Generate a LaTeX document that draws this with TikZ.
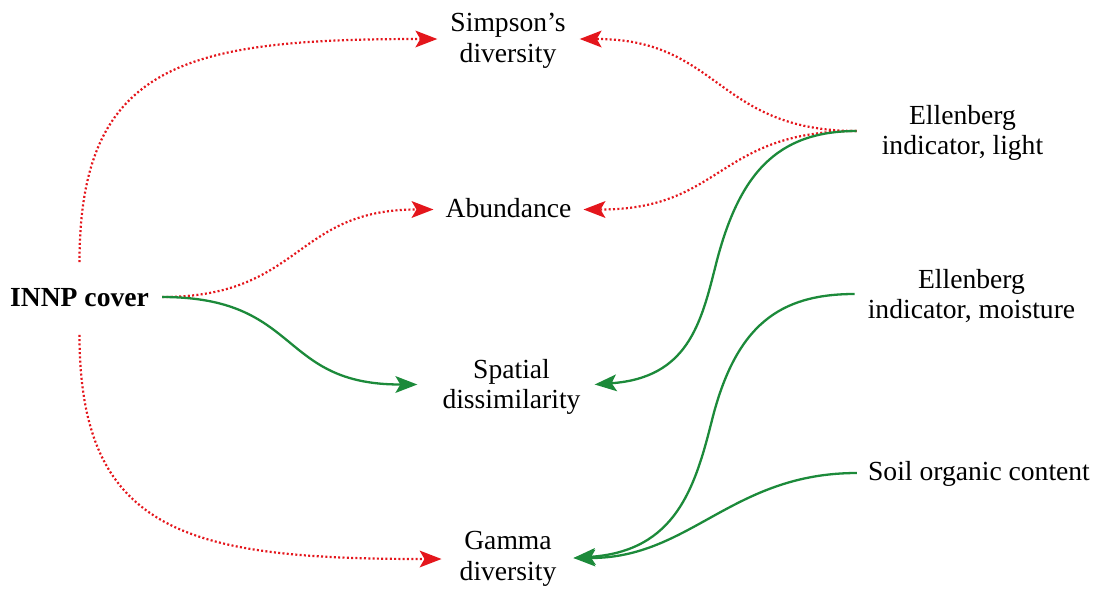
\documentclass[tikz,border=0pt]{standalone}
\usepackage{fontspec}
\setmainfont{Liberation Serif}
\usetikzlibrary{arrows.meta}
\definecolor{pred}{RGB}{228,22,28}
\definecolor{pgreen}{RGB}{28,138,58}
\begin{document}
\begin{tikzpicture}[x=1pt,y=-1pt,
  lbl/.style={inner sep=0pt, align=center, font=\fontsize{27.6}{30.5}\selectfont},
  neglink/.style={draw=pred, line width=2.2pt, dash pattern=on 2pt off 2.3pt,
     -{Stealth[length=22pt,width=17pt,inset=5pt,fill=pred,line width=0pt]}},
  poslink/.style={draw=pgreen, line width=2.3pt,
     -{Stealth[length=22pt,width=17pt,inset=5pt,fill=pgreen,line width=0pt]}}]
\useasboundingbox (0,0) rectangle (1101,590);
% nodes
\node[lbl] (simp) at (508,41) {Simpson’s\\diversity};
\node[lbl] (abun) at (508.5,208.5) {Abundance};
\node[lbl] (spat) at (511.5,387) {Spatial\\dissimilarity};
\node[lbl] (gamm) at (508,559) {Gamma\\diversity};
\node[lbl, font=\fontsize{27.6}{30.5}\selectfont\bfseries] (innp) at (79.5,297.5) {INNP cover};
\node[lbl] (elight) at (962.5,133) {Ellenberg\\indicator, light};
\node[lbl] (emoist) at (971.5,296) {Ellenberg\\indicator, moisture};
\node[lbl] (soil) at (979,474) {Soil organic content};
% inflection points of the long green connectors
\coordinate (k1) at (716,264);
\coordinate (k2) at (712,420);
% connectors from INNP cover
\draw[neglink] ([yshift=26pt]innp.north) .. controls +(0,-200) and +(-250,0) .. ([xshift=-13pt,yshift=2pt]simp.west);
\draw[neglink] ([xshift=13pt,yshift=0.5pt]innp.east) .. controls +(140,0) and +(-140,0) .. ([xshift=-12pt,yshift=-1pt]abun.west);
\draw[poslink] ([xshift=13pt,yshift=0.5pt]innp.east) .. controls +(140,0) and +(-140,0) .. ([xshift=-25pt,yshift=2.5pt]spat.west);
\draw[neglink] ([yshift=-28pt]innp.south) .. controls +(0,200) and +(-250,0) .. ([xshift=-18pt,yshift=0pt]gamm.west);
% connectors from Ellenberg light
\draw[neglink] ([xshift=-25pt,yshift=2pt]elight.west) .. controls +(-140,0) and +(140,0) .. ([xshift=14pt,yshift=2pt]simp.east);
\draw[neglink] ([xshift=-25pt,yshift=2pt]elight.west) .. controls +(-140,0) and +(140,0) .. ([xshift=12pt,yshift=-1pt]abun.east);
\draw[poslink] ([xshift=-25pt,yshift=2pt]elight.west) .. controls +(-80,0) and +(23,-90) .. (k1)
   .. controls +(-15,60) and +(93,-7) .. ([xshift=14pt,yshift=2.5pt]spat.east);
% Ellenberg moisture and soil
\draw[poslink] ([xshift=-13pt,yshift=2pt]emoist.west) .. controls +(-75,0) and +(24,-95) .. (k2)
   .. controls +(-17,68) and +(102,-7) .. ([xshift=17pt,yshift=1pt]gamm.east);
\draw[poslink] ([xshift=-11pt,yshift=1pt]soil.west) .. controls +(-125,0) and +(117,0) .. ([xshift=17pt,yshift=1pt]gamm.east);
\end{tikzpicture}
\end{document}
